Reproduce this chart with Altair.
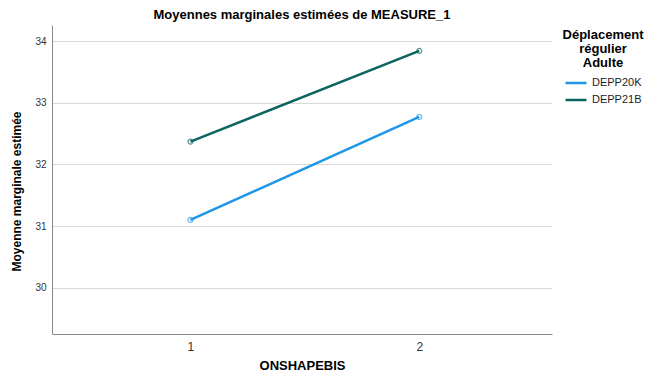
import altair as alt
import pandas as pd

groups = ["DEPP20K", "DEPP20K", "DEPP21B", "DEPP21B"]
onshape = [1, 2, 1, 2]
means = [31.10, 32.77, 32.37, 33.84]
series = ["DEPP20K", "DEPP21B"]
colors = ["#1f97e8", "#0b6460"]
y_ticks = [30, 31, 32, 33, 34]
x_ticks = [1, 2]

df = pd.DataFrame({"group": groups, "x": onshape, "y": means})

FONT = "Liberation Sans"

x_enc = alt.X("x:Q", scale=alt.Scale(domain=[0.395, 2.58], nice=False, zero=False),
              axis=alt.Axis(title="ONSHAPEBIS", values=x_ticks, format="d", grid=False,
                            ticks=False, labelPadding=7, labelFontSize=12, labelColor="#333333",
                            titleFontSize=13, titleFontWeight="bold", titlePadding=7,
                            domainColor="#888888", labelFont=FONT, titleFont=FONT))
y_enc = alt.Y("y:Q", scale=alt.Scale(domain=[29.25, 34.26], nice=False, zero=False),
              axis=alt.Axis(title="Moyenne marginale estimée", values=y_ticks, grid=True,
                            gridColor="#d9d9d9", gridWidth=1, ticks=False, labelPadding=6,
                            labelFontSize=10, labelColor="#333333", titleFontSize=12,
                            titleFontWeight="bold", titlePadding=11, domainColor="#888888",
                            labelFont=FONT, titleFont=FONT, titleY=166))

color_scale = alt.Scale(domain=series, range=colors)

lines = alt.Chart(df).mark_line(strokeWidth=2.5).encode(
    x=x_enc, y=y_enc,
    color=alt.Color("group:N", scale=color_scale,
                    legend=alt.Legend(title=["Déplacement", "régulier", "Adulte"],
                                      orient="none", legendX=511, legendY=4,
                                      titleAlign="center", titleAnchor="middle",
                                      titleFontSize=13, titleFontWeight="bold", titleFont=FONT,
                                      titleColor="#000000", titleLineHeight=14,
                                      labelFont=FONT, labelFontSize=11, labelColor="#222222",
                                      symbolType="stroke", symbolStrokeWidth=2.5,
                                      symbolSize=441, rowPadding=-7, titlePadding=1,
                                      offset=0)),
)
points = alt.Chart(df).mark_point(shape="circle", size=25, filled=False, strokeWidth=1.2).encode(
    x=x_enc, y=y_enc,
    color=alt.Color("group:N", scale=color_scale, legend=None),
)

chart = (lines + points).properties(
    width=500, height=309,
    background="white",
    title=alt.TitleParams("Moyennes marginales estimées de MEASURE_1", fontSize=13,
                          fontWeight="bold", font=FONT, offset=3, color="#000000"),
    autosize=alt.AutoSizeParams(type="none"),
    padding={"left": 44, "top": 17, "right": 92, "bottom": 38},
).configure_view(stroke="transparent", strokeWidth=0, strokeOpacity=0)

chart.save("out.html", embed_options={"renderer": "svg", "actions": False})
